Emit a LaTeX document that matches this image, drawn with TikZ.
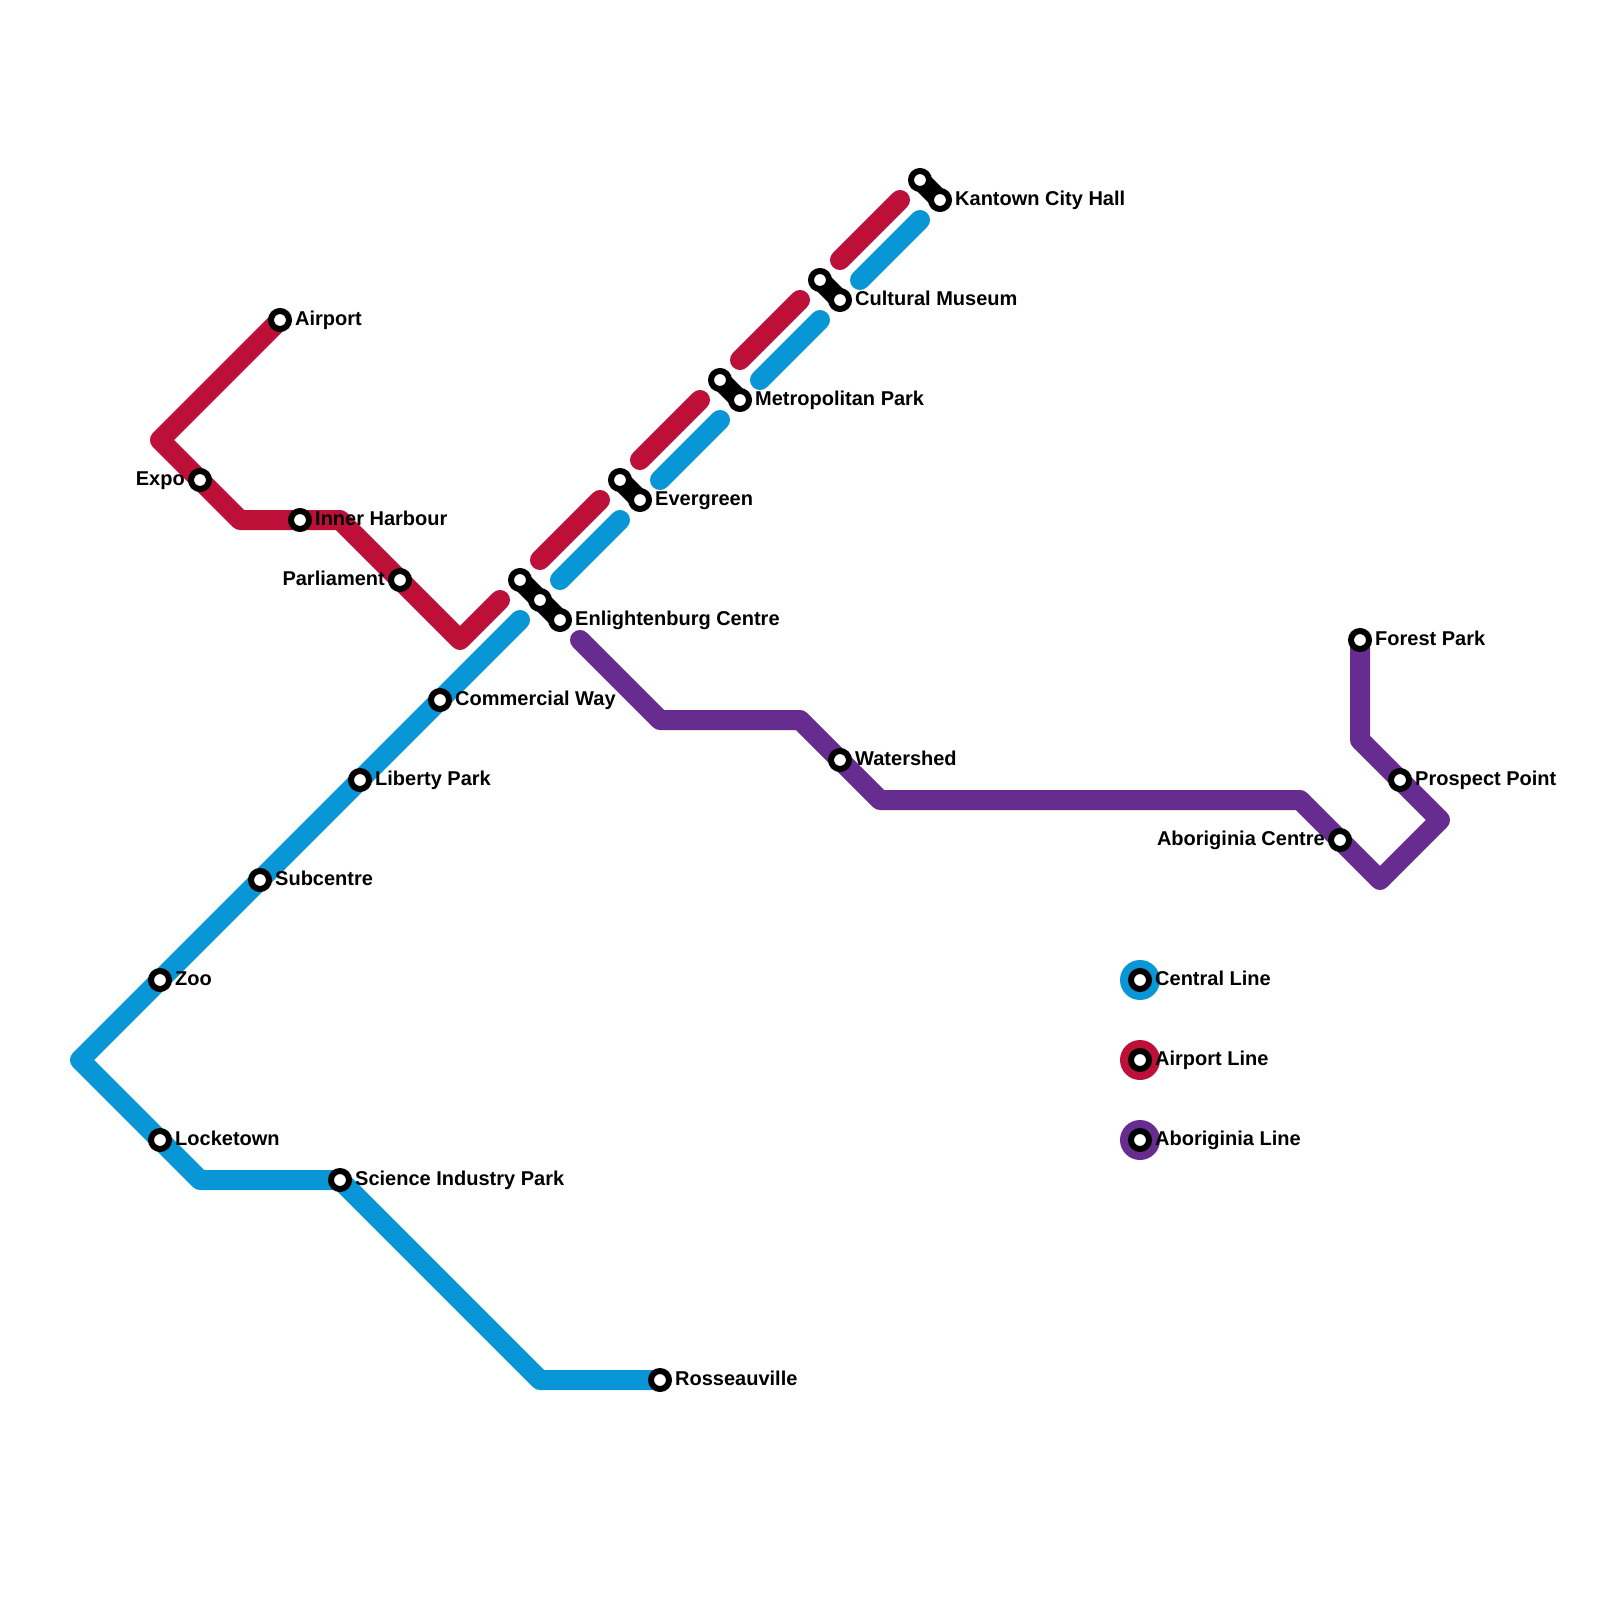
\documentclass[tikz,border=0pt]{standalone}
\usepackage{fontspec}
\setmainfont{Liberation Sans}
\definecolor{central}{HTML}{0896D7}
\definecolor{airportl}{HTML}{BD1038}
\definecolor{aborig}{HTML}{662C90}
\tikzset{
  x=1pt,y=-1pt,
  metro/.style={line width=20pt,line cap=round,line join=round},
  link/.style={line width=20pt,line cap=round,black},
  stn/.style={circle,draw=black,fill=white,line width=6pt,minimum size=18pt,inner sep=0pt},
  key/.style={circle,fill=#1,minimum size=40pt,inner sep=0pt},
  lab/.style={font=\bfseries\fontsize{20}{22}\selectfont,inner sep=0pt,text=black},
  labr/.style={lab,anchor=base west,xshift=15pt,yshift=-5.5pt},
  labl/.style={lab,anchor=base east,xshift=-15pt,yshift=-5.5pt},
}
\begin{document}
\begin{tikzpicture}
\useasboundingbox (0,0) rectangle (1600,1600);
% route points
\foreach \n/\x/\y in {r1/160/440,r2/240/520,r3/340/520,r4/460/640,r5/500/600,r6/540/560,r7/600/500,r8/640/460,r9/700/400,r10/740/360,r11/800/300,r12/840/260,r13/900/200,
 b1/520/620,b2/80/1060,b3/200/1180,b4/540/1380,b5/560/580,b6/620/520,b7/660/480,b8/720/420,b9/760/380,b10/820/320,b11/860/280,b12/920/220,
 p1/580/640,p2/660/720,p3/800/720,p4/880/800,p5/1300/800,p6/1380/880,p7/1440/820,p8/1360/740}
  \coordinate (\n) at (\x,\y);
% stations
\foreach \n/\x/\y in {airport/280/320,expo/200/480,inner/300/520,parl/400/580,enA/520/580,enB/540/600,enC/560/620,
 evA/620/480,evB/640/500,meA/720/380,meB/740/400,cuA/820/280,cuB/840/300,kaA/920/180,kaB/940/200,
 comm/440/700,lib/360/780,sub/260/880,zoo/160/980,lock/160/1140,sci/340/1180,ros/660/1380,
 wat/840/760,abc/1340/840,pro/1400/780,forest/1360/640,kc/1140/980,ka/1140/1060,kp/1140/1140}
  \coordinate (c\n) at (\x,\y);
% lines
\draw[metro,airportl] (cairport) -- (r1) -- (r2) -- (r3) -- (r4) -- (r5);
\draw[metro,airportl] (r6) -- (r7);
\draw[metro,airportl] (r8) -- (r9);
\draw[metro,airportl] (r10) -- (r11);
\draw[metro,airportl] (r12) -- (r13);
\draw[metro,central] (b1) -- (b2) -- (b3) -- (csci) -- (b4) -- (cros);
\draw[metro,central] (b5) -- (b6);
\draw[metro,central] (b7) -- (b8);
\draw[metro,central] (b9) -- (b10);
\draw[metro,central] (b11) -- (b12);
\draw[metro,aborig] (p1) -- (p2) -- (p3) -- (p4) -- (p5) -- (p6) -- (p7) -- (p8) -- (cforest);
% legend discs
\node[key=central] at (ckc) {};
\node[key=airportl] at (cka) {};
\node[key=aborig] at (ckp) {};
% interchange links
\draw[link] (cenA) -- (cenC);
\draw[link] (cevA) -- (cevB);
\draw[link] (cmeA) -- (cmeB);
\draw[link] (ccuA) -- (ccuB);
\draw[link] (ckaA) -- (ckaB);
% station discs
\foreach \n in {airport,expo,inner,parl,enA,enB,enC,evA,evB,meA,meB,cuA,cuB,kaA,kaB,comm,lib,sub,zoo,lock,sci,ros,wat,abc,pro,forest,kc,ka,kp}
  \node[stn] (s\n) at (c\n) {};
% labels
\foreach \n/\t in {airport/Airport,inner/Inner Harbour,enC/Enlightenburg Centre,evB/Evergreen,meB/Metropolitan Park,cuB/Cultural Museum,kaB/Kantown City Hall,comm/Commercial Way,lib/Liberty Park,sub/Subcentre,zoo/Zoo,lock/Locketown,sci/Science Industry Park,ros/Rosseauville,wat/Watershed,pro/Prospect Point,forest/Forest Park,kc/Central Line,ka/Airport Line,kp/Aboriginia Line}
  \node[labr] (l\n) at (c\n) {\t};
\foreach \n/\t in {expo/Expo,parl/Parliament,abc/Aboriginia Centre}
  \node[labl] (l\n) at (c\n) {\t};
\end{tikzpicture}
\end{document}
